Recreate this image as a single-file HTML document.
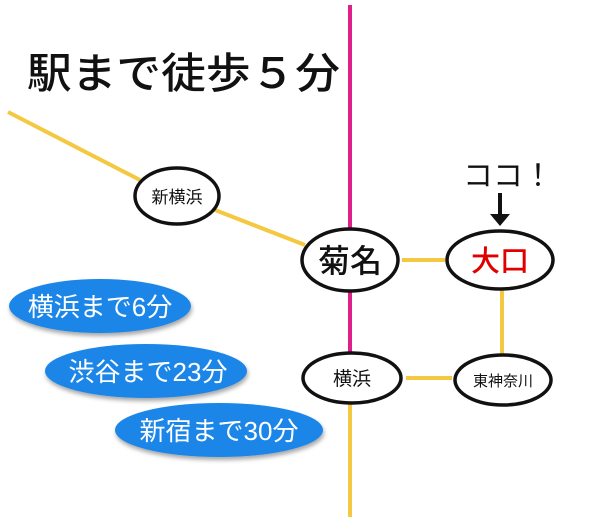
<!DOCTYPE html>
<html><head><meta charset="utf-8"><style>
body{margin:0;background:#fff;}
svg{display:block;font-family:"Liberation Sans","Noto Sans CJK JP",sans-serif;}
</style></head><body>
<svg width="600" height="517" viewBox="0 0 600 517">
<defs><filter id="s" x="-20%" y="-20%" width="140%" height="150%"><feDropShadow dx="1" dy="3" stdDeviation="2" flood-color="#000" flood-opacity="0.35"/></filter></defs>
<rect width="600" height="517" fill="#fff"/>
<text x="27" y="88" font-size="42" fill="#111" font-weight="500" textLength="313" lengthAdjust="spacingAndGlyphs">駅まで徒歩５分</text>
<g stroke="#f5c842" stroke-width="4" fill="none">
<line x1="8" y1="112" x2="140" y2="180"/>
<line x1="215" y1="210" x2="305" y2="245"/>
<line x1="402" y1="260" x2="445" y2="260"/>
<line x1="502" y1="290" x2="502" y2="355"/>
<line x1="406" y1="378" x2="452" y2="378"/>
<line x1="350" y1="404" x2="350" y2="517"/>
</g>
<g stroke="#e0208a" stroke-width="4">
<line x1="350" y1="5" x2="350" y2="229"/>
<line x1="350" y1="292" x2="350" y2="352"/>
</g>
<g fill="#fff" stroke="#111" stroke-width="3.5">
<ellipse cx="177" cy="196" rx="42" ry="28"/>
<ellipse cx="350" cy="260" rx="48" ry="31"/>
<ellipse cx="500" cy="260" rx="53" ry="29"/>
<ellipse cx="352" cy="378" rx="49" ry="25"/>
<ellipse cx="503" cy="380" rx="48" ry="25"/>
</g>
<g text-anchor="middle" fill="#111">
<text x="177" y="203" font-size="17">新横浜</text>
<text x="350" y="272" font-size="32" font-weight="500">菊名</text>
<text x="500" y="271" font-size="29" font-weight="500" fill="#e00000">大口</text>
<text x="352" y="385" font-size="19">横浜</text>
<text x="503" y="386" font-size="15">東神奈川</text>
<text x="508" y="186" font-size="30">ココ！</text>
</g>
<line x1="500" y1="193" x2="500" y2="222" stroke="#111" stroke-width="4"/>
<polygon points="490,214 510,214 500,226" fill="#111"/>
<g fill="#1a86e8" filter="url(#s)">
<ellipse cx="100" cy="306" rx="91" ry="27"/>
<ellipse cx="146" cy="371" rx="101" ry="27"/>
<ellipse cx="219" cy="430" rx="104" ry="27"/>
</g>
<g fill="#fff" font-size="26" text-anchor="middle">
<text x="100" y="316">横浜まで6分</text>
<text x="148" y="381">渋谷まで23分</text>
<text x="219" y="440">新宿まで30分</text>
</g>
</svg>
</body></html>
